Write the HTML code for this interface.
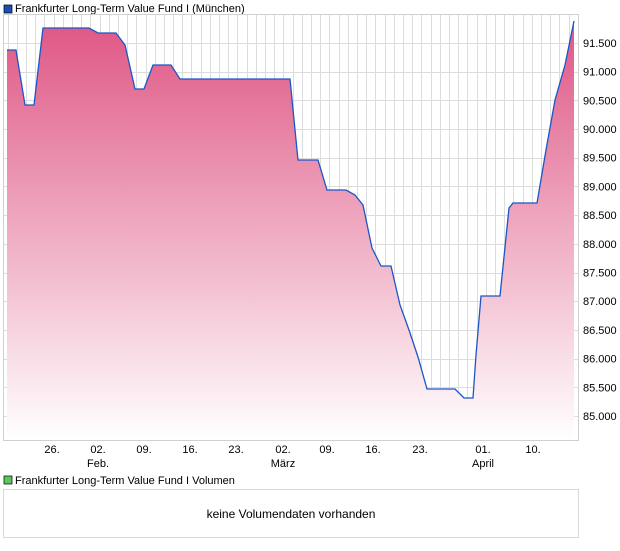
<!DOCTYPE html>
<html><head><meta charset="utf-8"><style>
body{margin:0;background:#fff;width:620px;height:546px;overflow:hidden;font-family:"Liberation Sans",sans-serif;}
</style></head><body>
<svg width="620" height="546" xmlns="http://www.w3.org/2000/svg" font-family="Liberation Sans, sans-serif">
<defs>
<linearGradient id="g" gradientUnits="userSpaceOnUse" x1="0" y1="20" x2="0" y2="440">
<stop offset="0" stop-color="#df5684"/>
<stop offset="1" stop-color="#ffffff"/>
</linearGradient>
</defs>
<rect x="4" y="5" width="8" height="8" fill="#1a4fb5" stroke="#000" stroke-width="0.7"/>
<text x="15" y="12" font-size="11" fill="#000">Frankfurter Long-Term Value Fund I (München)</text>
<g stroke="#dcdcdc" stroke-width="1" id="grid"></g>
<rect x="3.5" y="14.5" width="575" height="426" fill="none" stroke="#d0d0d0"/>
<path id="area" fill="url(#g)" d=""/>
<path id="line" fill="none" stroke="#1a56c8" stroke-width="1.3" d=""/>
<g font-size="11" fill="#000" id="ylab"></g>
<g font-size="11" fill="#000" text-anchor="middle">
<text x="52" y="453">26.</text><text x="98" y="453">02.</text><text x="144" y="453">09.</text><text x="190" y="453">16.</text><text x="236" y="453">23.</text><text x="283" y="453">02.</text><text x="327" y="453">09.</text><text x="373" y="453">16.</text><text x="420" y="453">23.</text><text x="483" y="453">01.</text><text x="533" y="453">10.</text>
<text x="98" y="467">Feb.</text><text x="283" y="467">März</text><text x="483" y="467">April</text>
</g>
<rect x="4" y="476" width="8" height="8" fill="#5cc85c" stroke="#000" stroke-width="0.7"/>
<text x="15" y="484" font-size="11" fill="#000">Frankfurter Long-Term Value Fund I Volumen</text>
<rect x="3.5" y="489.5" width="575" height="48" fill="#fff" stroke="#d8d8d8"/>
<text x="291" y="518" font-size="12" fill="#000" text-anchor="middle">keine Volumendaten vorhanden</text>
</svg>
<script>
var ns="http://www.w3.org/2000/svg";
var grid=document.getElementById('grid');
function ln(x1,y1,x2,y2){var l=document.createElementNS(ns,'line');l.setAttribute('x1',x1);l.setAttribute('y1',y1);l.setAttribute('x2',x2);l.setAttribute('y2',y2);grid.appendChild(l);}
for(var x=7.5;x<578;x+=9.2){ln(Math.round(x)+0.5,15,Math.round(x)+0.5,440);}
var yl=document.getElementById('ylab');
for(var i=0;i<=13;i++){var v=85+i*0.5;var y=416-(v-85)*57.4;ln(4,Math.round(y)+0.5,578,Math.round(y)+0.5);
var t=document.createElementNS(ns,'text');t.setAttribute('x',583);t.setAttribute('y',y+4);t.textContent=v.toFixed(3);yl.appendChild(t);}
var p=[[7,50],[16,50],[25,105],[34,105],[43,28],[89,28],[98,33],[116,33],[125,45],[135,89],[144,89],[153,65],[171,65],[180,79],[290,79],[298,160],[318,160],[327,190],[346,190],[355,195],[363,205],[372,248],[381,266],[391,266],[400,305],[409,330],[418,357],[427,389],[455,389],[464,398],[473,398],[476,355],[481,296],[500,296],[509,208],[513,203],[537,203],[546,150],[555,100],[565,65],[574,21]];
var d=p.map(function(q,i){return (i?'L':'M')+q[0]+','+q[1];}).join('');
document.getElementById('line').setAttribute('d',d);
document.getElementById('area').setAttribute('d',d+'L574,440L7,440Z');
</script>
</body></html>
